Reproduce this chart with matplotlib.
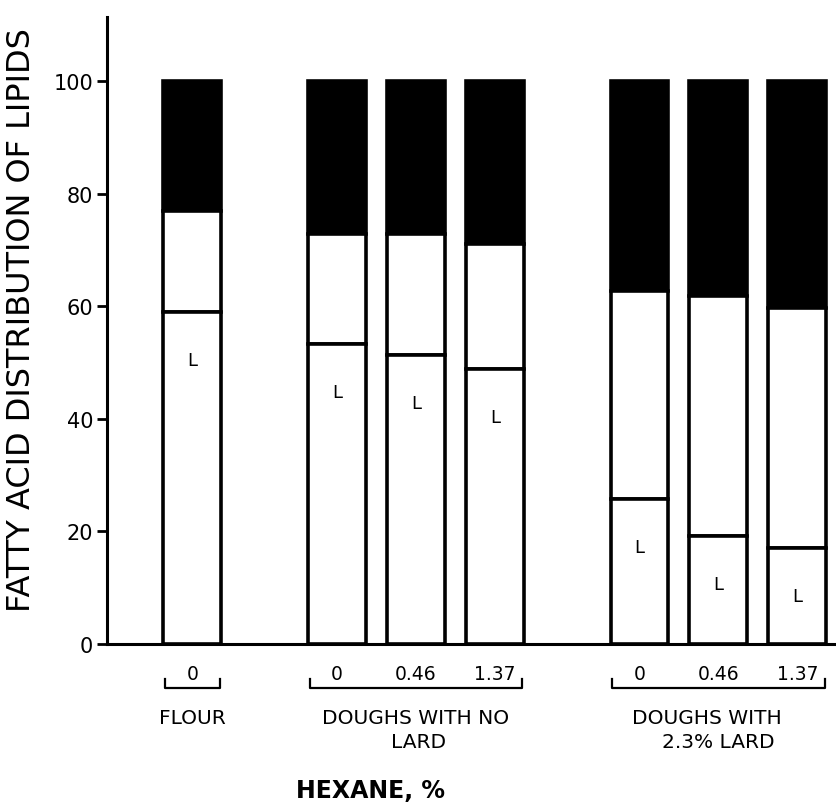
import matplotlib

matplotlib.use("Agg")

import matplotlib.pyplot as plt

# data
group_names = ["FLOUR", "DOUGHS WITH NO\nLARD", "DOUGHS WITH\n2.3% LARD"]
bar_group = [0, 1, 1, 1, 2, 2, 2]
hexane_labels = ["0", "0", "0.46", "1.37", "0", "0.46", "1.37"]
l_values = [59.0, 53.3, 51.3, 48.8, 25.8, 19.2, 17.1]
white_tops = [76.9, 72.8, 72.8, 71.0, 62.7, 61.8, 59.7]
totals = [100, 100, 100, 100, 100, 100, 100]

GROUP_GAP = 0.83
WIDTH = 0.73
EDGE = 2.6

positions = [i + GROUP_GAP * g for i, g in enumerate(bar_group)]

fig = plt.figure(figsize=(8.36, 8.04), dpi=100, facecolor="white")
ax = fig.add_axes([0.128, 0.1978, 0.872, 0.7798])

middle = [t - l for t, l in zip(white_tops, l_values)]
top = [tot - t for tot, t in zip(totals, white_tops)]

ax.bar(positions, top, WIDTH, bottom=white_tops, color="black",
       edgecolor="black", linewidth=EDGE, zorder=2)
ax.bar(positions, middle, WIDTH, bottom=l_values, color="white",
       edgecolor="black", linewidth=EDGE, zorder=3)
ax.bar(positions, l_values, WIDTH, color="white",
       edgecolor="black", linewidth=EDGE, zorder=3)

for x, l in zip(positions, l_values):
    ax.text(x, l - 8.5, "L", ha="center", va="center", fontsize=13,
            color="black", zorder=4)

ax.set_xlim(-1.08, 8.15)
ax.set_ylim(0, 111.4)
ax.set_yticks([0, 20, 40, 60, 80, 100])
ax.set_xticks([])
ax.tick_params(axis="y", direction="out", length=7, width=2, pad=3,
               labelsize=15)
for side in ("top", "right"):
    ax.spines[side].set_visible(False)
for side in ("left", "bottom"):
    ax.spines[side].set_linewidth(2.2)

# hexane values and group brackets under the axis
for x, lab in zip(positions, hexane_labels):
    ax.text(x, -5.3, lab, ha="center", va="center", fontsize=13.5,
            clip_on=False)

for g in range(len(group_names)):
    xs = [p for p, bg in zip(positions, bar_group) if bg == g]
    x0 = min(xs) - WIDTH / 2 + 0.02
    x1 = max(xs) + WIDTH / 2 - 0.02
    ax.plot([x0, x0, x1, x1], [-6.3, -7.8, -7.8, -6.3], color="black",
            linewidth=1.6, clip_on=False)

# group captions, line by line so the lard line can sit off-centre
caption_x = [positions[0], positions[2], positions[5] - 0.15]
second_x = [positions[0], positions[2] + 0.03, positions[5]]
for g, name in enumerate(group_names):
    lines = name.split("\n")
    ax.text(caption_x[g], -13.0, lines[0], ha="center", va="center",
            fontsize=14.5, clip_on=False)
    if len(lines) > 1:
        ax.text(second_x[g], -17.4, lines[1], ha="center", va="center",
                fontsize=14.5, clip_on=False)

ax.text(2.25, -26.0, "HEXANE, %", ha="center", va="center", fontsize=17,
        fontweight="bold", clip_on=False)

fig.text(22 / 836, 0.602, "FATTY ACID DISTRIBUTION OF LIPIDS", rotation=90,
         ha="center", va="center", fontsize=23)

fig.savefig("out.png", dpi=100, facecolor="white")
